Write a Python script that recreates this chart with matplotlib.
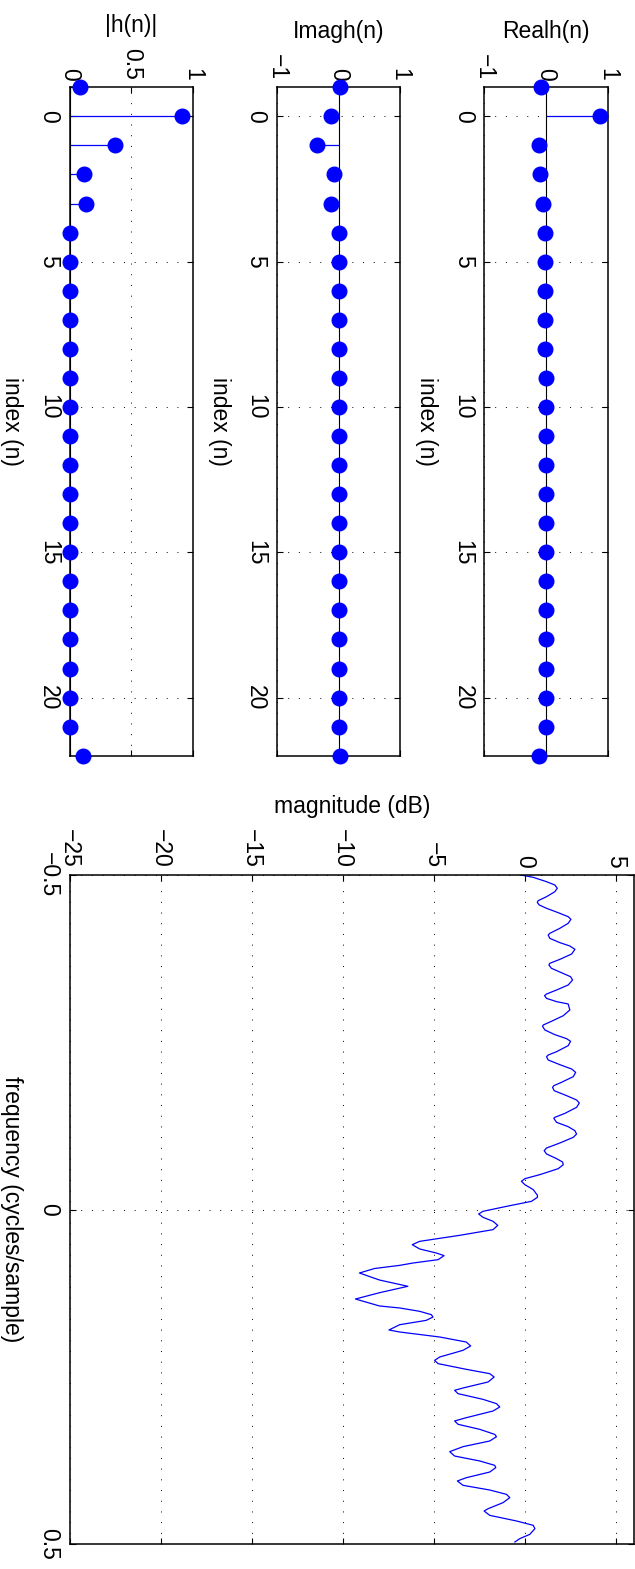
import matplotlib.pyplot as plt
import numpy as np

plt.rcParams['font.family'] = ['Liberation Sans', 'DejaVu Sans']
plt.rcParams['font.size'] = 16.5

# impulse response h(n), n = -1 .. 22
n = np.arange(-1, 23)
h_real = [-0.08, 0.88, -0.12, -0.09, -0.05, -0.01, -0.01, -0.01, -0.01, -0.01,
          0, 0, 0, 0, 0, 0, 0, 0, 0, 0, 0, 0, 0, -0.11]
h_imag = [0.02, -0.13, -0.35, -0.08, -0.13, 0, 0, 0, 0, 0,
          0, 0, 0, 0, 0, 0, 0, 0, 0, 0, 0, 0, 0, 0.02]
h_abs = [0.08, 0.91, 0.37, 0.12, 0.13, 0, 0, 0, 0, 0,
         0, 0, 0, 0, 0, 0, 0, 0, 0, 0, 0, 0, 0, 0.11]

# frequency response
freq = [
    -0.5000, -0.4965, -0.4900, -0.4850, -0.4801, -0.4751, -0.4676, -0.4616,
    -0.4591, -0.4552, -0.4502, -0.4437, -0.4377, -0.4337, -0.4278, -0.4203,
    -0.4128, -0.4103, -0.4053, -0.3989, -0.3939, -0.3889, -0.3819, -0.3739,
    -0.3680, -0.3655, -0.3605, -0.3540, -0.3480, -0.3430, -0.3356, -0.3281,
    -0.3221, -0.3196, -0.3156, -0.3107, -0.3072, -0.2982, -0.2897, -0.2813,
    -0.2758, -0.2738, -0.2683, -0.2613, -0.2554, -0.2514, -0.2449, -0.2359,
    -0.2309, -0.2284, -0.2235, -0.2165, -0.2100, -0.2050, -0.1986, -0.1901,
    -0.1851, -0.1826, -0.1776, -0.1702, -0.1637, -0.1592, -0.1527, -0.1437,
    -0.1378, -0.1363, -0.1303, -0.1238, -0.1178, -0.1128, -0.1079, -0.0994,
    -0.0919, -0.0879, -0.0830, -0.0760, -0.0710, -0.0670, -0.0610, -0.0521,
    -0.0461, -0.0421, -0.0371, -0.0297, -0.0212, -0.0182, -0.0122, -0.0047,
    0.0027, 0.0067, 0.0117, 0.0177, 0.0237, 0.0301, 0.0386, 0.0476,
    0.0526, 0.0590, 0.0650, 0.0690, 0.0750, 0.0800, 0.0835, 0.0882,
    0.0949, 0.1054, 0.1148, 0.1244, 0.1338, 0.1442, 0.1472, 0.1522,
    0.1572, 0.1607, 0.1657, 0.1722, 0.1801, 0.1831, 0.1906, 0.1981,
    0.2040, 0.2105, 0.2205, 0.2255, 0.2304, 0.2389, 0.2454, 0.2504,
    0.2578, 0.2668, 0.2703, 0.2753, 0.2838, 0.2902, 0.2952, 0.3012,
    0.3112, 0.3161, 0.3211, 0.3286, 0.3361, 0.3396, 0.3460, 0.3545,
    0.3620, 0.3685, 0.3759, 0.3824, 0.3859, 0.3924, 0.4009, 0.4058,
    0.4123, 0.4193, 0.4258, 0.4307, 0.4382, 0.4472, 0.4507, 0.4572,
    0.4656, 0.4721, 0.4771, 0.4856, 0.4920, 0.4970,
]
mag_db = [
    -0.21, 0.47, 1.20, 1.66, 1.79, 1.66, 1.20, 0.74,
    0.69, 0.80, 1.20, 1.84, 2.39, 2.54, 2.39, 1.93,
    1.38, 1.29, 1.38, 1.93, 2.48, 2.76, 2.58, 1.93,
    1.38, 1.33, 1.47, 2.02, 2.52, 2.63, 2.39, 1.75,
    1.20, 1.09, 1.20, 1.75, 2.39, 2.48, 2.12, 1.47,
    1.02, 0.98, 1.11, 1.66, 2.30, 2.52, 2.39, 1.75,
    1.29, 1.20, 1.29, 1.93, 2.58, 2.80, 2.67, 2.02,
    1.60, 1.53, 1.62, 2.30, 2.85, 3.00, 2.85, 2.21,
    1.66, 1.60, 1.75, 2.39, 2.76, 2.85, 2.67, 1.93,
    1.20, 1.07, 1.20, 1.75, 2.08, 2.12, 1.84, 0.83,
    0.01, -0.18, 0.01, 0.47, 0.70, 0.70, 0.37, -1.00,
    -2.29, -2.53, -2.29, -1.74, -1.48, -1.74, -3.57, -5.77,
    -6.18, -5.77, -4.86, -4.43, -4.76, -6.14, -6.87, -8.25,
    -9.08, -7.98, -6.42, -7.98, -9.30, -7.98, -6.87, -5.77,
    -5.13, -5.04, -5.41, -6.87, -7.46, -6.87, -4.67, -3.21,
    -2.97, -3.39, -4.67, -4.95, -4.76, -3.21, -1.92, -1.68,
    -2.01, -3.39, -3.85, -3.66, -2.29, -1.55, -1.37, -1.74,
    -3.21, -3.85, -3.66, -2.47, -1.65, -1.55, -1.92, -3.39,
    -4.12, -3.85, -2.47, -1.65, -1.59, -1.92, -3.21, -3.70,
    -3.39, -1.92, -1.00, -0.82, -1.19, -2.01, -2.23, -1.92,
    -0.45, 0.47, 0.56, 0.28, -0.27, -0.54,
]

W, H = 635, 1569
fig = plt.figure(figsize=(W / 100, H / 100), dpi=100)


def box(x0, x1, y0, y1):
    return [x0 / W, 1 - y1 / H, (x1 - x0) / W, (y1 - y0) / H]


def style(ax):
    ax.xaxis.tick_top()
    ax.xaxis.set_label_position('top')
    ax.tick_params(direction='in', length=4, width=0.8, top=True, bottom=True,
                   left=True, right=True, labeltop=True, labelbottom=False,
                   labelleft=True, labelright=False)
    ax.tick_params(axis='x', labelrotation=-90, pad=5)
    ax.tick_params(axis='y', labelrotation=-90, pad=7)
    for t in ax.get_yticklabels():
        t.set_va('center')
    ax.grid(True, color='k', linestyle=(0, (1, 10)), linewidth=0.7)
    for s in ax.spines.values():
        s.set_linewidth(1.1)


stems = [
    (h_abs, '|h(n)|', (0, 1), [0, 0.5, 1], ['0', '0.5', '1'], 69.7),
    (h_imag, 'Imagh(n)', (-1, 1), [-1, 0, 1], ['\u22121', '0', '1'], 277),
    (h_real, 'Realh(n)', (-1, 1), [-1, 0, 1], ['\u22121', '0', '1'], 484.4),
]
for vals, title, lim, ticks, labels, x0 in stems:
    ax = fig.add_axes(box(x0, x0 + 123.1, 87.3, 755.7))
    ml, sl, bl = ax.stem(n, vals, orientation='horizontal')
    ml.set(color='b', marker='o', markersize=10.5, clip_on=False, zorder=4)
    sl.set(color='b', linewidth=0.9)
    bl.set(color='k', linewidth=0.8)
    ax.set_xlim(*lim)
    ax.set_ylim(22, -1)
    ax.set_xticks(ticks)
    ax.set_xticklabels(labels)
    ax.set_yticks([0, 5, 10, 15, 20])
    style(ax)
    ax.set_xlabel(title, labelpad=12)
    ax.set_ylabel('index (n)', rotation=-90, labelpad=18, va='center')

ax = fig.add_axes(box(69.7, 633.9, 875, 1544))
ax.plot(mag_db, freq, color='b', linewidth=0.9)
ax.set_xlim(-25, 6)
ax.set_ylim(0.5, -0.5)
ax.set_xticks([-25, -20, -15, -10, -5, 0, 5])
ax.set_yticks([-0.5, 0, 0.5])
ax.set_yticklabels(['\u22120.5', '0', '0.5'])
style(ax)
ax.set_xlabel('magnitude (dB)', labelpad=12)
ax.set_ylabel('frequency (cycles/sample)', rotation=-90, labelpad=18, va='center')

fig.savefig('out.png', dpi=100)
